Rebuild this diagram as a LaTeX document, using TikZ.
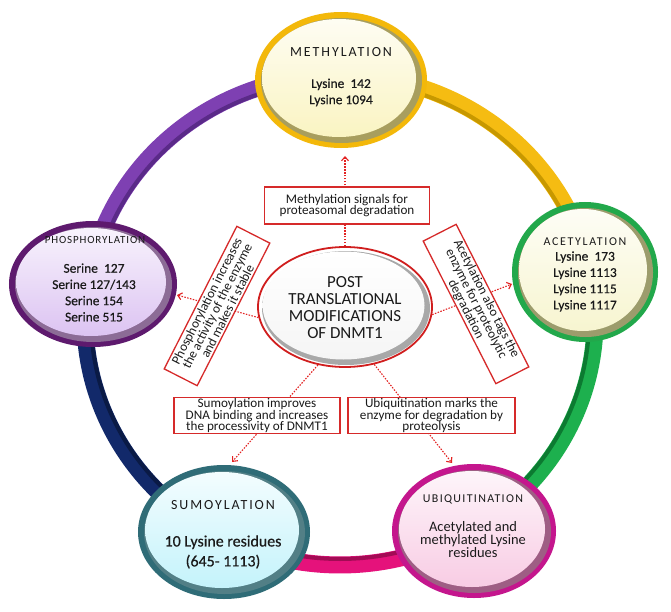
\documentclass[tikz,border=0pt]{standalone}
\usepackage{fontspec}
\setmainfont{Carlito}
\newfontfamily\semib{Carlito}[FakeBold=0.5]
\usetikzlibrary{shapes.geometric,arrows.meta}
\definecolor{cgold}{HTML}{F5BC12}
\definecolor{cgoldd}{HTML}{C79800}
\definecolor{cgreen}{HTML}{1DB04E}
\definecolor{cgreend}{HTML}{0C7A31}
\definecolor{cmag}{HTML}{E5127B}
\definecolor{cmagd}{HTML}{A30B55}
\definecolor{cnavy}{HTML}{12296A}
\definecolor{cnavyd}{HTML}{0A1A45}
\definecolor{cpurp}{HTML}{7E40B2}
\definecolor{cpurpd}{HTML}{5A2A88}
\definecolor{boxred}{HTML}{D62A2A}
\definecolor{arrred}{HTML}{E32222}
\definecolor{ptmred}{HTML}{D01E1E}
\definecolor{ptmshadow}{HTML}{A8A8A8}
\definecolor{txt}{HTML}{1A1A1A}
% disc colours
\definecolor{methB}{HTML}{F3B80A}\definecolor{methS}{HTML}{A89E5E}\definecolor{methF}{HTML}{FAF4C2}
\definecolor{phosB}{HTML}{5E1A6E}\definecolor{phosS}{HTML}{8C6C96}\definecolor{phosF}{HTML}{DCC3F2}
\definecolor{acetB}{HTML}{22A84B}\definecolor{acetS}{HTML}{9C9C6C}\definecolor{acetF}{HTML}{F7F5D0}
\definecolor{sumoB}{HTML}{2F6C77}\definecolor{sumoS}{HTML}{527F86}\definecolor{sumoF}{HTML}{C4F3FB}
\definecolor{ubiqB}{HTML}{C4168D}\definecolor{ubiqS}{HTML}{9E5E84}\definecolor{ubiqF}{HTML}{F8CCE4}
\tikzset{
  ringband/.style={line width=17bp},
  ringedge/.style={line width=4bp},
  disc/.style={ellipse, inner sep=0pt},
  ptmbox/.style={draw=boxred, line width=1.3bp, fill=white, inner sep=1bp,
    align=center, text=txt, font=\fontsize{13.2}{11.6}\selectfont},
  dotarrow/.style={draw=arrred, line width=1.1bp, dash pattern=on 1.5bp off 1.4bp,
    -{Straight Barb[length=4bp,width=7bp]}},
  ttl/.style 2 args={text=txt, inner sep=0pt, font=\fontsize{#1}{#1}\selectfont\addfontfeature{LetterSpace=#2}},
  res/.style={text=txt, inner sep=0pt, align=center, font=\semib\fontsize{13.5}{16.3}\selectfont},
  ctext/.style={text=txt, inner sep=0pt, align=center, font=\fontsize{17}{17}\selectfont},
}
\newcommand\modisc[8]{%
  \node[disc, fill=#6, minimum width=#4bp, minimum height=#5bp] (#1) at (#2,#3) {};
  \fill[#7] (#2+0.5,#3+0.5) ellipse [x radius=#4/2-5.5, y radius=#5/2-5.5];
  \shade[top color=#8!20!white, bottom color=#8] (#2-2,#3-2) ellipse [x radius=#4/2-9, y radius=#5/2-9];}
\begin{document}
\begin{tikzpicture}[x=1bp,y=-1bp]
\useasboundingbox[fill=white] (0,0) rectangle (671,612);
% ring
\draw[ringband, draw=cgold] (340,75) arc[start angle=-90, end angle=-11.5, x radius=255, y radius=245];
\draw[ringedge, draw=cgoldd] (340,81) arc[start angle=-90, end angle=-11.5, x radius=249, y radius=239];
\draw[ringband, draw=cgreen] (589.9,271.1) arc[start angle=-11.5, end angle=58.6, x radius=255, y radius=245];
\draw[ringedge, draw=cgreend] (584.0,272.3) arc[start angle=-11.5, end angle=58.6, x radius=249, y radius=239];
\draw[ringband, draw=cmag] (472.9,529.1) arc[start angle=58.6, end angle=117.7, x radius=255, y radius=245];
\draw[ringedge, draw=cmagd] (469.7,524.0) arc[start angle=58.6, end angle=117.7, x radius=249, y radius=239];
\draw[ringband, draw=cnavy] (221.5,536.9) arc[start angle=117.7, end angle=188.6, x radius=255, y radius=245];
\draw[ringedge, draw=cnavyd] (224.3,531.6) arc[start angle=117.7, end angle=188.6, x radius=249, y radius=239];
\draw[ringband, draw=cpurp] (87.9,283.4) arc[start angle=188.6, end angle=270, x radius=255, y radius=245];
\draw[ringedge, draw=cpurpd] (93.8,284.3) arc[start angle=188.6, end angle=270, x radius=249, y radius=239];
% discs
\modisc{meth}{341}{80}{172}{136}{methB}{methS}{methF}
\modisc{phos}{93}{284}{168}{126}{phosB}{phosS}{phosF}
\modisc{acet}{585}{272}{146}{140}{acetB}{acetS}{acetF}
\modisc{sumo}{224}{532}{172}{134}{sumoB}{sumoS}{sumoF}
\modisc{ubiq}{474}{531}{164}{134}{ubiqB}{ubiqS}{ubiqF}
% disc texts
\node[ttl={14}{14}] (methT) at (341,52) {METHYLATION};
\node[res] (methL) at (341,92.5) {Lysine\ \ 142\\Lysine 1094};
\node[ttl={11}{8}] (phosT) at (95,240) {PHOSPHORYLATION};
\node[res] (phosL) at (94,292.5) {Serine\ \ 127\\Serine 127/143\\Serine 154\\Serine 515};
\node[ttl={12}{14}] (acetT) at (585,242) {ACETYLATION};
\node[res] (acetL) at (585,281.5) {Lysine\ \ 173\\Lysine 1113\\Lysine 1115\\Lysine 1117};
\node[ttl={14}{14}] (sumoT) at (223,505) {SUMOYLATION};
\node[res, font=\semib\fontsize{16}{20}\selectfont] (sumoL) at (223,552) {10 Lysine residues\\(645- 1113)};
\node[ttl={12}{11}] (ubiqT) at (473,499) {UBIQUITINATION};
\node[res, font=\fontsize{14.5}{11.8}\selectfont] (ubiqL) at (473,539.5) {Acetylated and\\methylated Lysine\\residues};
% centre
\node[ellipse, draw=ptmred, line width=1.8bp, fill=white, minimum width=174bp, minimum height=120bp] (ptm) at (345,307) {};
\fill[ptmshadow] (346,308) ellipse [x radius=84, y radius=57];
\shade[top color=white, bottom color=gray!8] (343.5,305.5) ellipse [x radius=81, y radius=54];
\node[ctext] (ptmT) at (345,307.5) {POST\\TRANSLATIONAL\\MODIFICATIONS\\OF DNMT1};
% arrows
\coordinate (tipM) at (345,156);
\coordinate (tipP) at (177,295);
\coordinate (tipA) at (512,284);
\coordinate (tipS) at (232,462);
\coordinate (tipU) at (452,463);
\draw[dotarrow] (ptm.north) -- (tipM);
\draw[dotarrow] (ptm.187) -- (tipP);
\draw[dotarrow] (ptm.355) -- (tipA);
\draw[dotarrow] (ptm.245) -- (tipS);
\draw[dotarrow] (ptm.297) -- (tipU);
% boxes
\node[ptmbox, minimum width=165bp, minimum height=37bp] (mbox) at (347,205.5) {Methylation signals for\\proteasomal degradation};
\node[ptmbox, minimum width=166bp, minimum height=36bp] (sbox) at (257,415.5) {Sumoylation improves\\DNA binding and increases\\the processivity of DNMT1};
\node[ptmbox, minimum width=167bp, minimum height=36bp] (ubox) at (431.5,415.5) {Ubiquitination marks the\\enzyme for degradation by\\proteolysis};
\node[ptmbox, rotate=63, minimum width=160bp, minimum height=37bp] (pbox) at (217,306) {Phosphorylation increases\\the activity of the enzyme\\and makes it stable};
\node[ptmbox, rotate=-63, minimum width=160bp, minimum height=37bp] (abox) at (476,304) {Acetylation also tags the\\enzyme for proteolytic\\degradation};
\end{tikzpicture}
\end{document}
